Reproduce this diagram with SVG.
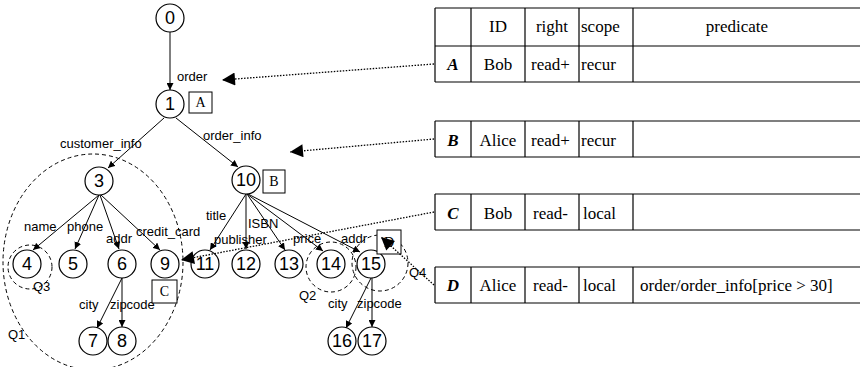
<svg xmlns="http://www.w3.org/2000/svg" width="860" height="367" viewBox="0 0 860 367">
  <style>
    .node circle { fill: #fff; stroke: #000; stroke-width: 1.2; }
    .node text { font-family: "Liberation Sans", Arial, sans-serif; font-size: 18px; text-anchor: middle; dominant-baseline: central; }
    .lbl { font-family: "Liberation Sans", Arial, sans-serif; font-size: 13px; }
    .tag rect { fill: #fff; stroke: #000; stroke-width: 1; }
    .tag text { font-family: "Liberation Serif", "Times New Roman", serif; font-size: 14px; text-anchor: middle; dominant-baseline: central; }
    .edge { stroke: #000; stroke-width: 1; fill: none; marker-end: url(#tip); }
    .ptr { stroke: #000; stroke-width: 1.3; stroke-dasharray: 1.5 1.5; fill: none; marker-end: url(#bigtip); }
    .scope { stroke: #000; stroke-width: 1; stroke-dasharray: 4 3; fill: none; }
    .grid line { stroke: #000; stroke-width: 1.2; }
    .cell { font-family: "Liberation Serif", "Times New Roman", serif; font-size: 17px; }
    .it { font-style: italic; font-weight: bold; }
  </style>
  <defs>
    <marker id="tip" viewBox="0 0 10 10" refX="10" refY="5" markerWidth="7" markerHeight="7" orient="auto" markerUnits="userSpaceOnUse">
      <path d="M0,0 L10,5 L0,10 z" fill="#000"/>
    </marker>
    <marker id="bigtip" viewBox="0 0 10 10" refX="10" refY="5" markerWidth="16" markerHeight="13" orient="auto" markerUnits="userSpaceOnUse">
      <path d="M0,0 L10,5 L0,10 z" fill="#000"/>
    </marker>
  </defs>

  <!-- scope regions -->
  <g id="scopes">
    <ellipse class="scope" cx="93" cy="262" rx="90" ry="108"/>
    <circle class="scope" cx="30" cy="267" r="22"/>
    <circle class="scope" cx="331" cy="267" r="25"/>
    <circle class="scope" cx="380" cy="263" r="28"/>
    <text class="lbl" x="8" y="339">Q1</text>
    <text class="lbl" x="33" y="291">Q3</text>
    <text class="lbl" x="299" y="300">Q2</text>
    <text class="lbl" x="409" y="277">Q4</text>
  </g>

  <!-- tree edges -->
  <g id="edges">
    <line class="edge" x1="170" y1="32" x2="170" y2="90"/>
    <line class="edge" x1="164" y1="118" x2="108" y2="168"/>
    <line class="edge" x1="176" y1="118" x2="238" y2="167"/>
    <line class="edge" x1="99" y1="195" x2="33" y2="250"/>
    <line class="edge" x1="99" y1="195" x2="75" y2="249"/>
    <line class="edge" x1="100" y1="195" x2="119" y2="249"/>
    <line class="edge" x1="101" y1="195" x2="160" y2="250"/>
    <line class="edge" x1="246" y1="194" x2="210" y2="250"/>
    <line class="edge" x1="246" y1="194" x2="246" y2="249"/>
    <line class="edge" x1="247" y1="194" x2="285" y2="250"/>
    <line class="edge" x1="247" y1="194" x2="323" y2="251"/>
    <line class="edge" x1="248" y1="194" x2="360" y2="252"/>
    <line class="edge" x1="122" y1="278" x2="97" y2="328"/>
    <line class="edge" x1="122" y1="278" x2="122" y2="327"/>
    <line class="edge" x1="371" y1="278" x2="346" y2="328"/>
    <line class="edge" x1="372" y1="278" x2="372" y2="327"/>
    <text class="lbl" x="177" y="81">order</text>
    <text class="lbl" x="60" y="148">customer_info</text>
    <text class="lbl" x="203" y="140">order_info</text>
    <text class="lbl" x="24" y="231">name</text>
    <text class="lbl" x="67" y="231">phone</text>
    <text class="lbl" x="106" y="243">addr</text>
    <text class="lbl" x="136" y="236">credit_card</text>
    <text class="lbl" x="206" y="220">title</text>
    <text class="lbl" x="248" y="228">ISBN</text>
    <text class="lbl" x="214" y="244">publisher</text>
    <text class="lbl" x="293" y="243">price</text>
    <text class="lbl" x="341" y="243">addr</text>
    <text class="lbl" x="79" y="309">city</text>
    <text class="lbl" x="110" y="309">zipcode</text>
    <text class="lbl" x="328" y="308">city</text>
    <text class="lbl" x="357" y="308">zipcode</text>
  </g>

  <!-- nodes -->
  <g id="n0" class="node"><circle cx="170" cy="18" r="14"/><text x="170" y="18">0</text></g>
  <g id="n1" class="node"><circle cx="170" cy="104" r="14"/><text x="170" y="104">1</text></g>
  <g id="n3" class="node"><circle cx="99" cy="181" r="14"/><text x="99" y="181">3</text></g>
  <g id="n10" class="node"><circle cx="246" cy="180" r="14"/><text x="246" y="180">10</text></g>
  <g id="n4" class="node"><circle cx="27" cy="264" r="14"/><text x="27" y="264">4</text></g>
  <g id="n5" class="node"><circle cx="73" cy="264" r="14"/><text x="73" y="264">5</text></g>
  <g id="n6" class="node"><circle cx="122" cy="264" r="14"/><text x="122" y="264">6</text></g>
  <g id="n9" class="node"><circle cx="165" cy="264" r="14"/><text x="165" y="264">9</text></g>
  <g id="n11" class="node"><circle cx="205" cy="264" r="14"/><text x="205" y="264">11</text></g>
  <g id="n12" class="node"><circle cx="246" cy="264" r="14"/><text x="246" y="264">12</text></g>
  <g id="n13" class="node"><circle cx="289" cy="264" r="14"/><text x="289" y="264">13</text></g>
  <g id="n14" class="node"><circle cx="331" cy="264" r="14"/><text x="331" y="264">14</text></g>
  <g id="n15" class="node"><circle cx="371" cy="264" r="14"/><text x="371" y="264">15</text></g>
  <g id="n7" class="node"><circle cx="93" cy="341" r="14"/><text x="93" y="341">7</text></g>
  <g id="n8" class="node"><circle cx="122" cy="341" r="14"/><text x="122" y="341">8</text></g>
  <g id="n16" class="node"><circle cx="342" cy="341" r="14"/><text x="342" y="341">16</text></g>
  <g id="n17" class="node"><circle cx="372" cy="341" r="14"/><text x="372" y="341">17</text></g>

  <!-- rule tags on nodes -->
  <g id="tagA" class="tag"><rect x="189" y="92" width="23" height="21"/><text x="200.5" y="102.5">A</text></g>
  <g id="tagB" class="tag"><rect x="263" y="170" width="22" height="23"/><text x="274" y="181.5">B</text></g>
  <g id="tagC" class="tag"><rect x="152" y="280" width="25" height="23"/><text x="164.5" y="291.5">C</text></g>
  <g id="tagD" class="tag"><rect x="377" y="230" width="24" height="24"/><text x="389" y="242">D</text></g>

  <!-- rule table -->
  <g id="table">
    <g class="grid">
      <line x1="435" y1="8" x2="860" y2="8"/>
      <line x1="435" y1="46" x2="860" y2="46"/>
      <line x1="435" y1="82" x2="860" y2="82"/>
      <line x1="435" y1="121" x2="860" y2="121"/>
      <line x1="435" y1="157" x2="860" y2="157"/>
      <line x1="435" y1="194" x2="860" y2="194"/>
      <line x1="435" y1="230" x2="860" y2="230"/>
      <line x1="435" y1="267" x2="860" y2="267"/>
      <line x1="435" y1="303" x2="860" y2="303"/>
      <line x1="435" y1="8" x2="435" y2="82"/>
      <line x1="471" y1="8" x2="471" y2="82"/>
      <line x1="525" y1="8" x2="525" y2="82"/>
      <line x1="579" y1="8" x2="579" y2="82"/>
      <line x1="633" y1="8" x2="633" y2="82"/>
      <line x1="435" y1="121" x2="435" y2="157"/>
      <line x1="471" y1="121" x2="471" y2="157"/>
      <line x1="525" y1="121" x2="525" y2="157"/>
      <line x1="579" y1="121" x2="579" y2="157"/>
      <line x1="633" y1="121" x2="633" y2="157"/>
      <line x1="435" y1="194" x2="435" y2="230"/>
      <line x1="471" y1="194" x2="471" y2="230"/>
      <line x1="525" y1="194" x2="525" y2="230"/>
      <line x1="579" y1="194" x2="579" y2="230"/>
      <line x1="633" y1="194" x2="633" y2="230"/>
      <line x1="435" y1="267" x2="435" y2="303"/>
      <line x1="471" y1="267" x2="471" y2="303"/>
      <line x1="525" y1="267" x2="525" y2="303"/>
      <line x1="579" y1="267" x2="579" y2="303"/>
      <line x1="633" y1="267" x2="633" y2="303"/>
    </g>
    <g class="cell">
      <text x="498" y="32" text-anchor="middle">ID</text>
      <text x="552" y="32" text-anchor="middle">right</text>
      <text x="581" y="32">scope</text>
      <text x="737" y="32" text-anchor="middle">predicate</text>

      <text class="it" x="453" y="70" text-anchor="middle">A</text>
      <text x="498" y="70" text-anchor="middle">Bob</text>
      <text x="531" y="70">read+</text>
      <text x="581" y="70">recur</text>

      <text class="it" x="453" y="146" text-anchor="middle">B</text>
      <text x="498" y="146" text-anchor="middle">Alice</text>
      <text x="531" y="146">read+</text>
      <text x="581" y="146">recur</text>

      <text class="it" x="453" y="219" text-anchor="middle">C</text>
      <text x="498" y="219" text-anchor="middle">Bob</text>
      <text x="533" y="219">read-</text>
      <text x="583" y="219">local</text>

      <text class="it" x="453" y="291" text-anchor="middle">D</text>
      <text x="498" y="291" text-anchor="middle">Alice</text>
      <text x="533" y="291">read-</text>
      <text x="583" y="291">local</text>
      <text x="640" y="291">order/order_info[price &gt; 30]</text>
    </g>
  </g>

  <!-- pointers from rules to tagged nodes -->
  <g id="pointers">
    <line class="ptr" x1="434" y1="64" x2="222" y2="80"/>
    <line class="ptr" x1="434" y1="139" x2="290" y2="152"/>
    <line class="ptr" x1="434" y1="212" x2="181" y2="260"/>
    <line class="ptr" x1="434" y1="285" x2="381" y2="237"/>
  </g>
</svg>
